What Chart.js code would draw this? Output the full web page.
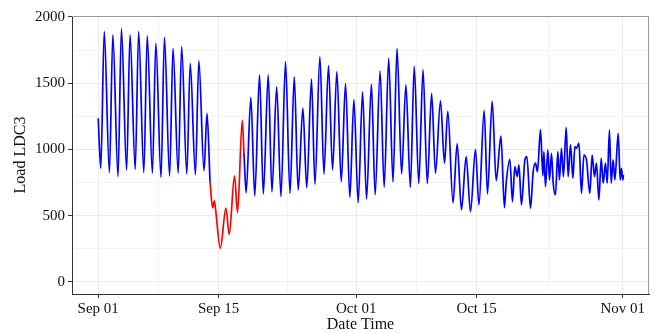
<!DOCTYPE html>
<html>
<head>
<meta charset="utf-8">
<script src="https://cdn.jsdelivr.net/npm/chart.js@4"></script>
<style>
  html, body { margin: 0; padding: 0; background: #fff; }
  #wrap { width: 654px; height: 333px; }
</style>
</head>
<body>
<div id="wrap"><canvas id="myChart" width="654" height="333"></canvas></div>
<script>
// days since Sep 01 and load values
const blueDays = [0, 0.3, 0.7, 1.3, 1.7, 2.3, 2.7, 3.3, 3.7, 4.3, 4.7, 5.3, 5.7, 6.3, 6.7, 7.3, 7.7, 8.3, 8.7,
  9.3, 9.7, 10.3, 10.7, 11.3, 11.7, 12.3, 12.65, 13.0,
  14.5,
  16.95, 17.2, 17.75, 18.2, 18.76, 19.2, 19.77, 20.2, 20.75, 21.25, 21.78, 22.3, 22.8, 23.25, 23.8,
  24.25, 24.8, 25.2, 25.78, 26.25, 26.78, 27.25, 27.75, 28.26, 28.76, 29.26, 29.73, 30.23, 30.74,
  31.2, 31.77, 32.2, 32.78, 33.25, 33.78, 34.28, 34.75, 35.28, 35.78, 36.3, 36.75, 37.28, 37.77,
  38.27, 38.77, 39.22, 39.8, 40.27, 40.65, 41.26, 41.74, 42.24, 42.79, 43.29, 43.87, 44.27, 44.88,
  45.27, 45.81, 46.28, 46.83, 47.24, 47.44, 47.87, 48.17, 48.45, 48.72, 48.92, 49.22, 49.62, 49.85,
  50.27, 50.58, 50.85, 51.08, 51.43, 51.71, 51.83, 52.01, 52.29, 52.48, 52.71, 52.91, 53.17, 53.45,
  53.64, 53.87, 54.1, 54.42, 54.65, 54.92, 55.2, 55.43, 55.62, 55.9, 56.2, 56.48, 56.78, 57.17,
  57.44, 57.71, 57.94, 58.22, 58.49, 58.72, 58.99, 59.19, 59.45, 59.65, 59.88, 60.08, 60.47, 60.7,
  60.85, 61.01, 61.08];
const blueLoad = [1235, 858, 1890, 825, 1865, 795, 1910, 845, 1865, 850, 1890, 825, 1857, 820, 1800, 790, 1845, 800, 1763,
  820, 1775, 815, 1650, 808, 1670, 840, 1273, 757,
  null,
  973, 674, 1394, 649, 1562, 664, 1562, 680, 1472, 645, 1663, 669, 1548, 694, 1311,
  711, 1530, 737, 1700, 814, 1633, 845, 1587, 757, 1497, 638, 1377, 598, 1434,
  624, 1493, 657, 1592, 715, 1687, 755, 1763, 815, 1487, 714, 1627, 742, 1603,
  743, 1424, 820, 1367, 896, 1290, 598, 1044, 543, 946, 531, 998, 581, 1295,
  664, 1364, 765, 1100, 561, 745, 926, 606, 870, 795, 883, 581, 921, 946,
  556, 832, 896, 832, 1150, 800, 983, 719, 996, 770, 971, 745, 657, 983,
  770, 1009, 795, 1167, 795, 1034, 783, 1021, 1009, 1047, 669, 958, 921, 669,
  958, 795, 896, 619, 933, 745, 896, 745, 1147, 745, 921, 770, 1122, 770,
  858, 770, 808];

const redDays = [13.0, 13.3, 13.5, 13.65, 14.2, 14.85, 15.23, 15.85, 16.2, 16.75, 16.95];
const redLoad = [757, 560, 612, 545, 254, 558, 358, 801, 523, 1220, 973];

const xTickDays = [0, 14, 30, 44, 61];
const xTickLabels = ['Sep 01', 'Sep 15', 'Oct 01', 'Oct 15', 'Nov 01'];
const xMinorDays = [7, 22, 37, 52.5];
const yTicks = [0, 500, 1000, 1500, 2000];
const yMinor = [250, 750, 1250, 1750];

const serif = '"Liberation Serif", "Times New Roman", serif';

const panelBorder = {
  id: 'panelBorder',
  beforeDatasetsDraw(chart) {
    const a = chart.chartArea;
    const c = chart.ctx;
    c.save();
    c.strokeStyle = '#9a9a9a';
    c.lineWidth = 1;
    c.beginPath();
    c.moveTo(a.left, a.top + 0.5);
    c.lineTo(a.right - 0.5, a.top + 0.5);
    c.lineTo(a.right - 0.5, a.bottom);
    c.stroke();
    c.restore();
  }
};

const isMajorX = v => xTickDays.includes(v);
const isMajorY = v => yTicks.includes(v);

const config = {
  type: 'line',
  data: {
    datasets: [{
      label: 'normal',
      data: blueDays.map((d, i) => ({ x: d, y: blueLoad[i] })),
      borderColor: '#0000ff',
      borderWidth: 1.7,
      pointRadius: 0,
      cubicInterpolationMode: 'monotone',
      spanGaps: false
    }, {
      label: 'anomaly',
      data: redDays.map((d, i) => ({ x: d, y: redLoad[i] })),
      borderColor: '#ff0000',
      borderWidth: 1.7,
      pointRadius: 0,
      cubicInterpolationMode: 'monotone'
    }]
  },
  options: {
    responsive: false,
    animation: false,
    layout: { padding: { top: 16, right: 5, left: 0, bottom: 0 } },
    plugins: { legend: { display: false }, tooltip: { enabled: false } },
    scales: {
      x: {
        type: 'linear',
        min: -3.05,
        max: 64.05,
        afterBuildTicks: s => { s.ticks = xTickDays.concat(xMinorDays).sort((a, b) => a - b).map(v => ({ value: v })); },
        afterFit: s => { s.height = 39; },
        ticks: {
          autoSkip: false,
          maxRotation: 0,
          padding: 2,
          color: '#111',
          font: { family: serif, size: 15 },
          callback: v => { const k = xTickDays.indexOf(v); return k >= 0 ? xTickLabels[k] : ''; }
        },
        grid: {
          color: c => isMajorX(c.tick.value) ? '#ebebeb' : '#f3f3f3',
          lineWidth: 1,
          tickLength: 4,
          tickColor: c => isMajorX(c.tick.value) ? '#333' : 'rgba(0,0,0,0)'
        },
        border: { color: '#333', width: 1 },
        title: {
          display: true,
          text: 'Date Time',
          color: '#111',
          font: { family: serif, size: 16, lineHeight: 1.0 },
          padding: { top: 0, bottom: 0 }
        }
      },
      y: {
        type: 'linear',
        min: -91,
        max: 2007,
        afterBuildTicks: s => { s.ticks = yTicks.concat(yMinor).sort((a, b) => a - b).map(v => ({ value: v })); },
        afterFit: s => { s.width = 72; },
        ticks: {
          autoSkip: false,
          padding: 3,
          color: '#111',
          font: { family: serif, size: 15 },
          callback: v => isMajorY(v) ? String(v) : ''
        },
        grid: {
          color: c => isMajorY(c.tick.value) ? '#ebebeb' : '#f3f3f3',
          lineWidth: 1,
          tickLength: 4,
          tickColor: c => isMajorY(c.tick.value) ? '#333' : 'rgba(0,0,0,0)'
        },
        border: { color: '#333', width: 1 },
        title: {
          display: true,
          text: 'Load LDC3',
          color: '#111',
          font: { family: serif, size: 16, lineHeight: 1.0 },
          padding: { top: 13, bottom: 0 }
        }
      }
    }
  },
  plugins: [panelBorder]
};

const ctx = document.getElementById('myChart').getContext('2d');
const myChart = new Chart(ctx, config);
</script>
</body>
</html>
